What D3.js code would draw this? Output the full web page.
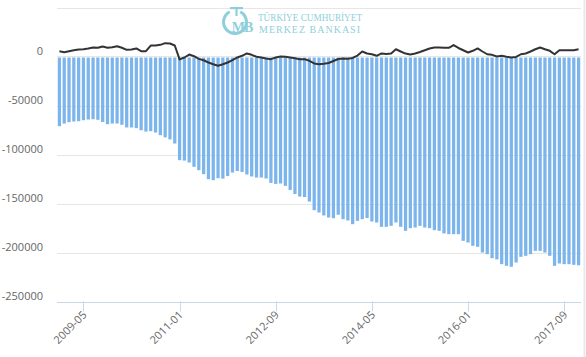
<!DOCTYPE html>
<html>
<head>
<meta charset="utf-8">
<script src="https://cdn.jsdelivr.net/npm/d3@7"></script>
<style>
  html, body { margin: 0; padding: 0; background: #fff; }
  svg { display: block; }
  text { font-family: "Open Sans", "DejaVu Sans", sans-serif; }
  text.serif { font-family: "Liberation Serif", "DejaVu Serif", serif; }
</style>
</head>
<body>
<div id="chart"></div>
<script>
// ---- data ----
const startMonth = "2008-12";
const monthCount = 109;
const tickLabels = ["2009-05", "2011-01", "2012-09", "2014-05", "2016-01", "2017-09"];
const yTicks = [0, -50000, -100000, -150000, -200000, -250000];
const gridValues = [50000, 0, -50000, -100000, -150000, -200000];

const barValues = [
  -71100, -68400, -67000, -66300, -66000, -65000, -64300, -64000, -64600, -66800,
  -69100, -68400, -68400, -69700, -72400, -72400, -73100, -75200, -76600, -76200,
  -77600, -80300, -82500, -84600, -88800, -105800, -106200, -108200, -112600, -116000,
  -120100, -125200, -126200, -124200, -124600, -122000, -118400, -116800, -117800, -120400,
  -122400, -123500, -123500, -124500, -129000, -130000, -129600, -132000, -136200, -140300,
  -142900, -143400, -148000, -156800, -159200, -162200, -164300, -165000, -161500, -166000,
  -167300, -171100, -167700, -166000, -164800, -168400, -169400, -173800, -173800, -172800,
  -169400, -173800, -177900, -175200, -174500, -172800, -174500, -175200, -177200, -177900,
  -180600, -181300, -181300, -181300, -188100, -189800, -193200, -194200, -200000, -201700,
  -205800, -207000, -211900, -213600, -214600, -210200, -204400, -203400, -201700, -198300,
  -198300, -200000, -203400, -213600, -211200, -211900, -211900, -212600, -213000
];

const lineValues = [
  5400, 4400, 5400, 6400, 7100, 7500, 8200, 9200, 8900, 10200,
  8900, 9500, 10500, 8900, 6800, 7100, 8200, 5400, 5400, 11200,
  11200, 11900, 13600, 13300, 11200, -3000, -1000, 2000, 300, -2400,
  -3800, -6100, -7900, -9500, -7900, -6100, -3700, -1000, 700, 3100,
  1700, -300, -1000, -2000, -2700, -1000, 0, -300, -1000, -1700,
  -2700, -2700, -4400, -7100, -7800, -7500, -6600, -4600, -2600, -2000,
  -2400, -1500, 1000, 5100, 3100, 2300, 700, 3100, 2600, 3100,
  7400, 5100, 3000, 2000, 3100, 4600, 6400, 8200, 9200, 9200,
  8900, 8900, 11700, 8700, 6400, 4100, 5800, 8200, 5100, 2300,
  1700, 0, 700, -300, -1000, -500, 2300, 3100, 5100, 7400,
  9200, 7400, 5800, 2300, 6400, 6400, 6400, 6400, 7400
];

// category labels (year-month), built from the start month
const fmt = d3.timeFormat("%Y-%m");
const parse = d3.timeParse("%Y-%m");
const categories = d3.timeMonth.range(parse(startMonth), d3.timeMonth.offset(parse(startMonth), monthCount)).map(fmt);

// ---- layout ----
const W = 586, H = 357;
const plotLeft = 57, plotRight = 581, plotTop = 7.5, plotBottom = 301.5;

const svg = d3.select("#chart").append("svg").attr("width", W).attr("height", H);

const x = d3.scaleBand().domain(categories).range([plotLeft, plotRight]).paddingInner(0.32).paddingOuter(0.16);
const xc = d3.scaleBand().domain(categories).range([plotLeft, plotRight]);
const y = d3.scaleLinear().domain([-250000, 50000]).range([plotBottom, plotTop]);

// right edge border
svg.append("line").attr("x1", 584.5).attr("x2", 584.5).attr("y1", 0).attr("y2", H)
  .attr("stroke", "#e8e8e8").attr("stroke-width", 2);

// gridlines
svg.append("g").selectAll("line").data(gridValues).join("line")
  .attr("x1", plotLeft).attr("x2", plotRight)
  .attr("y1", d => Math.round(y(d)) + 0.5).attr("y2", d => Math.round(y(d)) + 0.5)
  .attr("stroke", "#e6e6e6").attr("stroke-width", 1);

// watermark logo
const logo = svg.append("g").attr("fill", "#8fcfdc");
logo.append("path")
  .attr("d", d3.arc()({innerRadius: 10, outerRadius: 13, startAngle: Math.PI * 0.15, endAngle: Math.PI * 1.85}))
  .attr("transform", "translate(235,22)");
logo.append("rect").attr("x", 230).attr("y", 7).attr("width", 13).attr("height", 2.2);
logo.append("rect").attr("x", 235.4).attr("y", 7).attr("width", 2.2).attr("height", 9);
logo.append("text").attr("class", "serif").attr("x", 242).attr("y", 32).attr("text-anchor", "middle")
  .attr("font-size", 14).attr("font-weight", "bold").attr("letter-spacing", -1).text("MB");
logo.append("text").attr("class", "serif").attr("x", 258).attr("y", 21)
  .attr("font-size", 10)
  .attr("textLength", 104).attr("lengthAdjust", "spacingAndGlyphs").text("TÜRKİYE CUMHURİYET");
logo.append("text").attr("class", "serif").attr("x", 259).attr("y", 32.5)
  .attr("font-size", 10)
  .attr("textLength", 101).attr("lengthAdjust", "spacing").text("MERKEZ BANKASI");

// bars
svg.append("g").selectAll("rect").data(barValues).join("rect")
  .attr("x", (d, i) => x(categories[i]))
  .attr("width", x.bandwidth())
  .attr("y", y(0) + 1)
  .attr("height", d => Math.max(0, y(d) - y(0) - 1))
  .attr("fill", "#7cb5ec");

// axis line
svg.append("line").attr("x1", plotLeft).attr("x2", plotRight)
  .attr("y1", Math.round(plotBottom) + 0.5).attr("y2", Math.round(plotBottom) + 0.5)
  .attr("stroke", "#ccd6eb");

// x axis ticks & labels
const xt = svg.append("g");
tickLabels.forEach(lbl => {
  const cx = xc(lbl) + xc.bandwidth() / 2;
  xt.append("line").attr("x1", Math.round(cx) + 0.5).attr("x2", Math.round(cx) + 0.5)
    .attr("y1", plotBottom).attr("y2", plotBottom + 10).attr("stroke", "#ccd6eb");
  xt.append("text")
    .attr("transform", `translate(${cx + 4},${plotBottom + 14}) rotate(-45)`)
    .attr("text-anchor", "end").attr("font-size", 11).attr("fill", "#666").text(lbl);
});

// y axis labels
svg.append("g").selectAll("text").data(yTicks).join("text")
  .attr("x", 43).attr("y", d => y(d) - 2)
  .attr("text-anchor", "end").attr("font-size", 11).attr("fill", "#666")
  .text(d => String(d));

// line series
const line = d3.line()
  .x((d, i) => xc(categories[i]) + xc.bandwidth() / 2)
  .y(d => y(d));
svg.append("path").datum(lineValues)
  .attr("d", line).attr("fill", "none")
  .attr("stroke", "#333333").attr("stroke-width", 2).attr("stroke-linejoin", "round");
</script>
</body>
</html>
